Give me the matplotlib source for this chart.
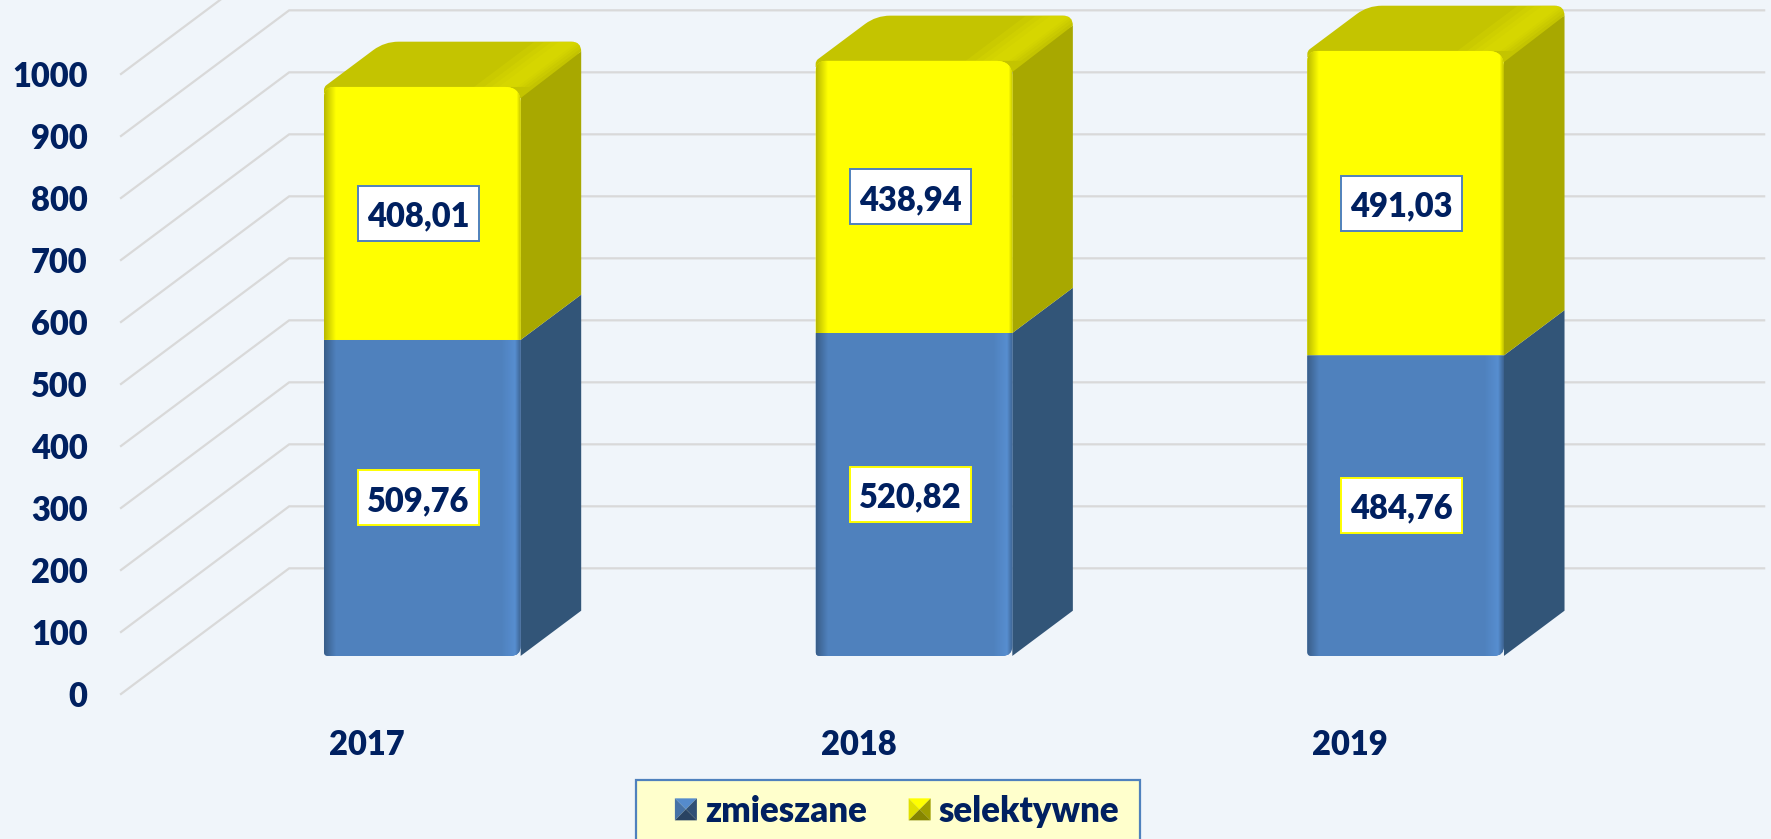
import numpy as np
import matplotlib
matplotlib.use("Agg")
import matplotlib.pyplot as plt
from matplotlib.patches import Patch, PathPatch, Polygon, Rectangle
from matplotlib.path import Path
from matplotlib.legend_handler import HandlerBase
from matplotlib.colors import to_rgb

years = ["2017", "2018", "2019"]
zmieszane = [509.76, 520.82, 484.76]
selektywne = [408.01, 438.94, 491.03]
y_ticks = [0, 100, 200, 300, 400, 500, 600, 700, 800, 900, 1000]

NAVY = "#002060"
BG = "#f0f5fa"
BLUE = ("#4f81bd", "#325578")
YELLOW = ("#ffff00", "#a8a800")
TOP = "#c4c400"

# oblique depth of the fake 3d chart, in axis units
DEPTH_X = 0.342
DEPTH_Y = 202.7
BAR_Z0 = 0.33
BAR_Z1 = 0.69
BAR_HALF = 0.2
BAR_DROP = 5.5
CORNER = 16.0

W, H = 1771, 839
AX_L, AX_R, AX_B, AX_T = 121, 1596, 694, 74
PX_X = (AX_R - AX_L) / 3.0
PX_Y = (AX_B - AX_T) / 1000.0

plt.rcParams["font.family"] = ["Lato", "DejaVu Sans"]
FS = 23.5
WEIGHT = "heavy"

fig = plt.figure(figsize=(W / 100, H / 100), dpi=100, facecolor=BG)
ax = fig.add_axes([AX_L / W, 1 - AX_B / H, (AX_R - AX_L) / W, (AX_B - AX_T) / H], facecolor="none")
ax.set_xlim(-0.5, 2.5)
ax.set_ylim(0, 1000)
ax.set_autoscale_on(False)
for s in ax.spines.values():
    s.set_visible(False)


def proj(x, v, z):
    return x + z * DEPTH_X, v + z * DEPTH_Y - BAR_DROP


def rounded(pts, radii):
    # polygon with rounded corners, radii in pixels, returned as a data path
    p = np.array(pts, dtype=float) * [PX_X, PX_Y]
    n = len(p)
    verts, codes = [], []
    for i in range(n):
        a, b, c = p[i - 1], p[i], p[(i + 1) % n]
        r = radii[i]
        u = (a - b) / np.hypot(*(a - b))
        w = (c - b) / np.hypot(*(c - b))
        verts += [b + u * r, b, b + w * r]
        codes += [Path.MOVETO if i == 0 else Path.LINETO, Path.CURVE3, Path.CURVE3]
    verts.append(verts[0])
    codes.append(Path.CLOSEPOLY)
    return Path(np.array(verts) / [PX_X, PX_Y], codes)


def shade(base):
    # horizontal bevel of the front face
    c = np.array(to_rgb(base))
    t = np.linspace(0, 1, 400)
    f = np.ones_like(t)
    f = np.where(t < 0.06, 0.72 + 0.28 * t / 0.06, f)
    f = np.where((t > 0.9) & (t <= 0.97), 1 + 0.1 * (t - 0.9) / 0.07, f)
    f = np.where(t > 0.97, 1.1 - 0.35 * (t - 0.97) / 0.03, f)
    return np.clip(c * f[:, None], 0, 1)[None, :, :]


def front(x, v0, v1, base, radii):
    xa, va = proj(x - BAR_HALF, v0, BAR_Z0)
    xb, vb = proj(x + BAR_HALF, v1, BAR_Z0)
    path = rounded([(xa, va), (xb, va), (xb, vb), (xa, vb)], radii)
    patch = PathPatch(path, facecolor=base, edgecolor="none", zorder=5, clip_on=False)
    ax.add_patch(patch)
    im = ax.imshow(shade(base), extent=[xa, xb, va, vb], aspect="auto", zorder=5.1, interpolation="nearest")
    im.set_clip_box(fig.bbox)
    im.set_clip_path(patch)


def side(x, v0, v1, color, back_cut=0.0):
    xr = x + BAR_HALF
    pts = [proj(xr, v0, BAR_Z0), proj(xr, v0, BAR_Z1), proj(xr, v1 - back_cut, BAR_Z1), proj(xr, v1, BAR_Z0)]
    ax.add_patch(Polygon(pts, closed=True, facecolor=color, edgecolor="none", zorder=3, clip_on=False))


def top_face(x, v):
    xl, xr = x - BAR_HALF, x + BAR_HALF
    # the lid reaches down behind the rounded corners of the front face
    pts = [proj(xl, v - 10, BAR_Z0), proj(xr, v - 18, BAR_Z0), proj(xr, v - CORNER, BAR_Z1),
           proj(xr, v, BAR_Z1), proj(xl, v, BAR_Z1), proj(xl, v, BAR_Z0)]
    lid = PathPatch(rounded(pts, [0, 0, 0, 10, 14, 3]), facecolor=TOP, edgecolor="none", zorder=4, clip_on=False)
    ax.add_patch(lid)
    # soft lighter band near the right edge of the lid
    for w in [0.075, 0.055, 0.04, 0.025]:
        band = [proj(xr - 0.02 - w, v, BAR_Z0), proj(xr - 0.02 + w / 2, v, BAR_Z0),
                proj(xr - 0.02 + w / 2, v, BAR_Z1), proj(xr - 0.02 - w, v, BAR_Z1)]
        p = Polygon(band, closed=True, facecolor="#e2e200", edgecolor="none", alpha=0.22, zorder=4.1)
        ax.add_patch(p)
        p.set_clip_box(fig.bbox)
        p.set_clip_path(lid)


def value_label(x, v, value, edge):
    # fixed size white box with the number in it
    bw, bh = 121 / PX_X, 55 / PX_Y
    ax.add_patch(Rectangle((x - bw / 2, v - bh / 2), bw, bh, facecolor="white", edgecolor=edge, lw=1.4,
                           zorder=7, clip_on=False))
    ax.text(x, v, f"{value:.2f}".replace(".", ","), color=NAVY, fontsize=FS, fontweight=WEIGHT,
            ha="center", va="center_baseline", zorder=8, clip_on=False)


# walls and gridlines
for t in y_ticks:
    xs = [-0.5, -0.5 + DEPTH_X, 2.5 + DEPTH_X]
    ys = [t, t + DEPTH_Y, t + DEPTH_Y]
    ax.plot(xs, ys, color="#d9d9d9", lw=1.6, zorder=1, clip_on=False, solid_joinstyle="miter")

for i in range(len(years)):
    blue_top = zmieszane[i]
    total = zmieszane[i] + selektywne[i]
    side(i, 0, blue_top, BLUE[1])
    side(i, blue_top, total, YELLOW[1], back_cut=CORNER)
    top_face(i, total)
    front(i, 0, blue_top, BLUE[0], [4, 10, 0, 0])
    front(i, blue_top, total, YELLOW[0], [0, 0, 16, 10])

    x_lab = proj(i - 0.008, 0, BAR_Z0)[0]
    value_label(x_lab, proj(i, blue_top / 2, BAR_Z0)[1], zmieszane[i], "#ffff00")
    value_label(x_lab, proj(i, blue_top + selektywne[i] / 2, BAR_Z0)[1], selektywne[i], "#4f81bd")

ax.set_xticks(range(len(years)))
ax.set_xticklabels(years, fontsize=FS, color=NAVY, fontweight=WEIGHT)
ax.set_yticks(y_ticks)
ax.set_yticklabels([str(t) for t in y_ticks], fontsize=FS, color=NAVY, fontweight=WEIGHT)
ax.tick_params(axis="x", length=0, pad=25)
ax.tick_params(axis="y", length=0, pad=24)


class PyramidHandler(HandlerBase):
    def create_artists(self, legend, orig, xd, yd, width, height, fontsize, trans):
        light = np.array(to_rgb(orig.get_facecolor()))
        s = 22.0 * 0.72
        x0, y0 = (width - s) / 2 - xd, (height - s) / 2 - yd
        c = (x0 + s / 2, y0 + s / 2)
        a, b, d, e = (x0, y0), (x0 + s, y0), (x0 + s, y0 + s), (x0, y0 + s)
        faces = [([e, d, c], 1.08), ([a, e, c], 0.88), ([b, d, c], 0.62), ([a, b, c], 0.52)]
        return [Polygon(p, closed=True, facecolor=np.clip(light * f, 0, 1), edgecolor="none", transform=trans)
                for p, f in faces]


# legend box runs off the bottom of the picture
fig.add_artist(Rectangle((636 / W, -0.02), 504 / W, 1 - 780 / H + 0.02, transform=fig.transFigure,
                         facecolor="#ffffcc", edgecolor="#4f81bd", lw=1.6))
handles = [Patch(facecolor=BLUE[0], label="zmieszane"), Patch(facecolor=YELLOW[0], label="selektywne")]
leg = fig.legend(handles=handles, handler_map={Patch: PyramidHandler()}, loc="center left",
                 bbox_to_anchor=(672 / W, 1 - 811 / H), ncol=2, prop=dict(size=25, weight=WEIGHT), frameon=False,
                 labelcolor=NAVY, borderpad=0, handlelength=0.8, handletextpad=0.15, columnspacing=1.12,
                 borderaxespad=0)

fig.savefig("out.png", dpi=100, facecolor=BG)
